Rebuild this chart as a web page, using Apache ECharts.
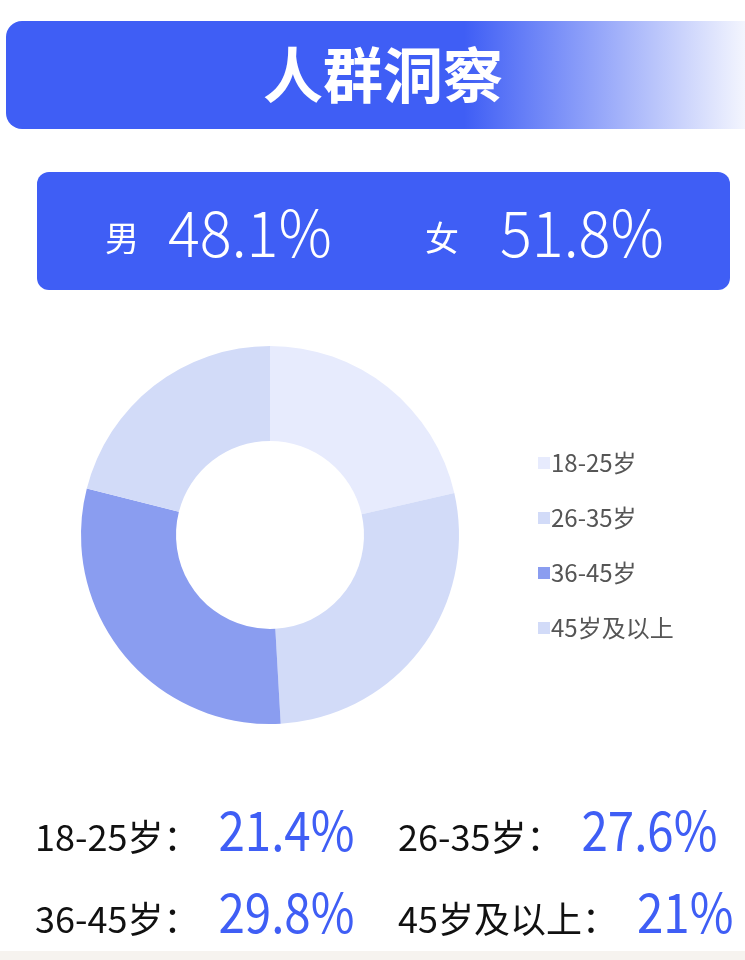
<!DOCTYPE html>
<html>
<head>
<meta charset="utf-8">
<script src="https://cdn.jsdelivr.net/npm/echarts@6/dist/echarts.min.js"></script>
<style>
  html, body { margin: 0; padding: 0; background: #fff; }
  #main { width: 745px; height: 960px; }
</style>
</head>
<body>
<div id="main"></div>
<script>
// 数据
const title = '人群洞察';
const genders = ['男', '女'];
const genderValues = ['48.1%', '51.8%'];
const ageGroups = ['18-25岁', '26-35岁', '36-45岁', '45岁及以上'];
const ageValues = [21.4, 27.6, 29.8, 21];
const ageColors = ['#e7ebfd', '#d2dbf8', '#8a9df0', '#d2dbf8'];

const blue = '#3f5ef5';
const font = '"Noto Sans CJK SC", "Noto Sans", sans-serif';

const chart = echarts.init(document.getElementById('main'));

// 量文字宽度
const ctx = document.createElement('canvas').getContext('2d');
function textWidth(text, size) {
  ctx.font = size + 'px ' + font;
  return ctx.measureText(text).width;
}

// 男 / 女
const genderPos = [[105, 168], [425, 500]];
const genderTexts = [];
genders.forEach((g, i) => {
  genderTexts.push({
    type: 'text', x: genderPos[i][0], y: 238,
    style: { text: g, fill: '#fff', fontSize: 34, fontFamily: font, verticalAlign: 'middle' }
  });
  genderTexts.push({
    type: 'text', x: genderPos[i][1], y: 233, scaleX: 0.93,
    style: { text: genderValues[i], fill: '#fff', fontSize: 64, fontWeight: 300, fontFamily: font, verticalAlign: 'middle' }
  });
});

// 底部占比文字
const statPos = [[35, 851], [398, 851], [35, 933], [398, 933]];
const statTexts = [];
ageGroups.forEach((name, i) => {
  const label = name + '：';
  const x = statPos[i][0];
  const base = statPos[i][1];
  statTexts.push({
    type: 'text', x: x, y: base - 14,
    style: { text: label, fill: '#111', fontSize: 36, fontFamily: font, verticalAlign: 'middle' }
  });
  statTexts.push({
    type: 'text', x: x + textWidth(label, 36) + 19, y: base - 21, scaleX: 0.88,
    style: { text: ageValues[i] + '%', fill: blue, fontSize: 54, fontFamily: font, verticalAlign: 'middle' }
  });
});

const options = {
  backgroundColor: '#fff',
  graphic: [
    {
      type: 'rect',
      shape: { x: 6, y: 21, width: 739, height: 108, r: [16, 0, 0, 16] },
      style: {
        fill: new echarts.graphic.LinearGradient(0, 0, 1, 0, [
          { offset: 0, color: blue },
          { offset: 0.62, color: blue },
          { offset: 1, color: '#f3f5fe' }
        ])
      }
    },
    {
      type: 'text',
      x: 383, y: 75,
      style: {
        text: title, fill: '#fff', fontSize: 60, fontWeight: 'bold',
        fontFamily: font, align: 'center', verticalAlign: 'middle'
      }
    },
    {
      type: 'rect',
      shape: { x: 37, y: 172, width: 693, height: 118, r: 12 },
      style: { fill: blue }
    },
    ...genderTexts,
    ...statTexts,
    {
      type: 'rect',
      shape: { x: 0, y: 951, width: 745, height: 9 },
      style: { fill: '#f6f3ef' }
    }
  ],
  legend: {
    orient: 'vertical',
    left: 533,
    top: 446,
    itemGap: 31,
    itemWidth: 12,
    itemHeight: 12,
    icon: 'rect',
    textStyle: { fontSize: 24, lineHeight: 24, color: '#555', fontFamily: font, padding: [0, 0, 0, -4] },
    data: ageGroups
  },
  series: [
    {
      type: 'pie',
      center: [270, 535],
      radius: [94, 189],
      startAngle: 90,
      clockwise: true,
      silent: true,
      label: { show: false },
      labelLine: { show: false },
      data: ageGroups.map((name, i) => ({
        name,
        value: ageValues[i],
        itemStyle: { color: ageColors[i] }
      }))
    }
  ]
};

chart.setOption(options);
</script>
</body>
</html>
